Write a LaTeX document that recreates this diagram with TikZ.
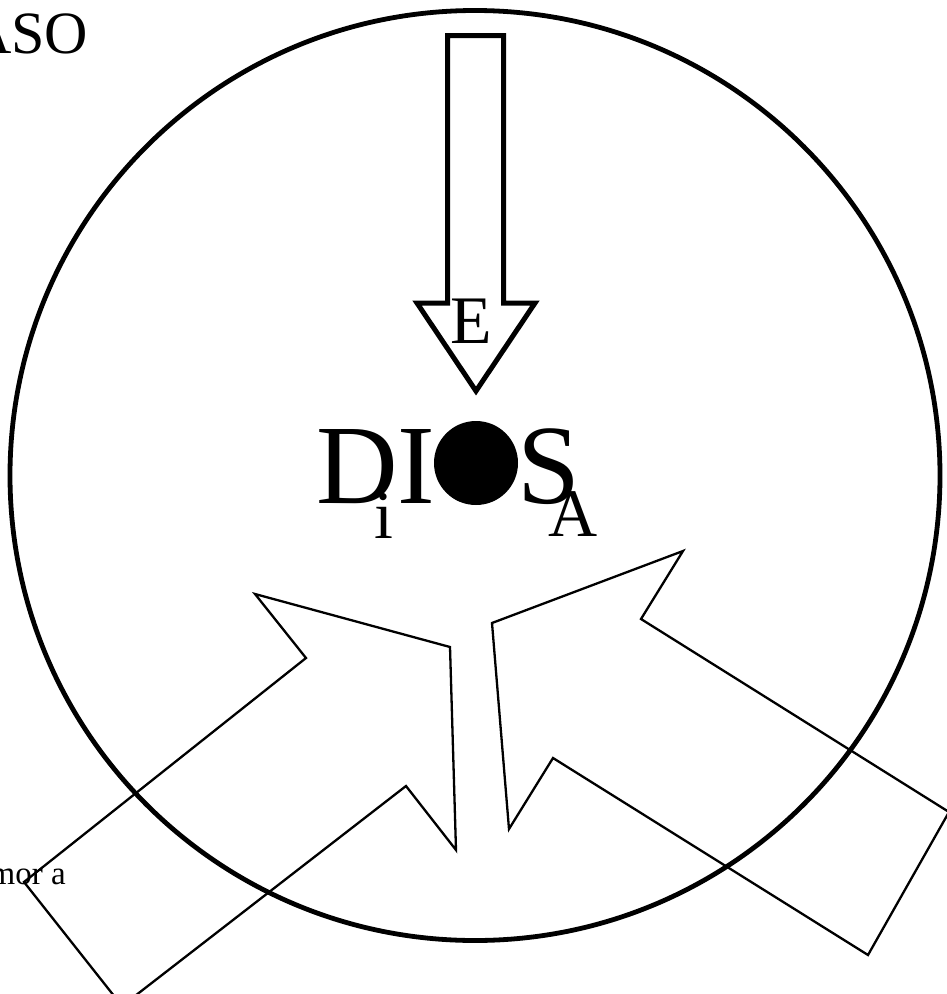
\documentclass[tikz,border=0pt]{standalone}
\usepackage{fontspec}
\setmainfont{Liberation Serif}
\begin{document}
\begin{tikzpicture}[x=1pt,y=-1pt,
  thick line/.style={line width=5pt,line join=miter},
  thin line/.style={line width=2.3pt,line join=miter},
  big/.style={inner sep=0pt,font=\fontsize{113}{113}\selectfont},
  mid/.style={inner sep=0pt,font=\fontsize{68}{68}\selectfont},
  small/.style={inner sep=0pt,font=\fontsize{33}{33}\selectfont}]
\useasboundingbox (0,0) rectangle (947,994);
% left bottom arrow
\draw[thin line] (255,594) -- (450,647) -- (456,850) -- (406,786) -- (122,1006) -- (24,882) -- (306,658) -- cycle;
% right bottom arrow
\draw[thin line] (683,551) -- (641,619) -- (949,812) -- (868,955) -- (553,758) -- (509,829) -- (492,623) -- cycle;
% big circle
\draw[line width=4.8pt] (475,475.5) circle[radius=465];
% top arrow
\draw[thick line] (447.5,35.5) -- (503.5,35.5) -- (503.5,303) -- (535,303) -- (476,391) -- (417,303) -- (447.5,303) -- cycle;
% texts
\node[mid,anchor=base west] (e) at (450,343) {E};
\node[big,anchor=base west] (dios) at (316,503) {DIOS};
\fill (476,463) circle[radius=42];
\node[mid,anchor=base] (i) at (384,538) {i};
\node[mid,anchor=base west] (a) at (548,536) {A};
\node[inner sep=0pt,font=\fontsize{60}{60}\selectfont,anchor=base west] (aso) at (-32,53) {ASO};
\node[small,anchor=base east] (mora) at (66,884) {mor a};
\end{tikzpicture}
\end{document}
